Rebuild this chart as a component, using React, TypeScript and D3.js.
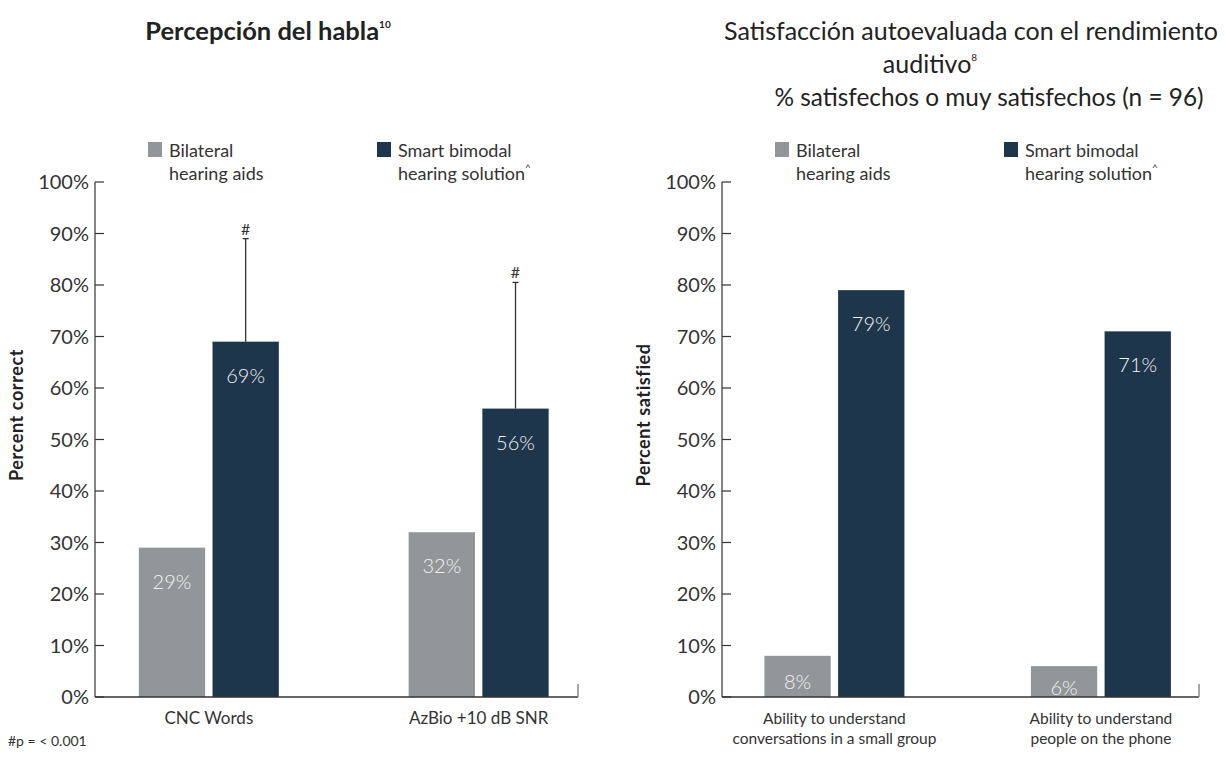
import React from "react";
import * as d3 from "d3";

const yTicks = [0, 10, 20, 30, 40, 50, 60, 70, 80, 90, 100];
const seriesKeys = ["bilateral", "bimodal"];
const legendLines = [
  ["Bilateral", "hearing aids"],
  ["Smart bimodal", "hearing solution"],
];

const speechCategories = [["CNC Words"], ["AzBio +10 dB SNR"]];
const speechBilateral = [29, 32];
const speechBimodal = [69, 56];
const speechBimodalUpper = [89, 80.5];

const satisfactionCategories = [
  ["Ability to understand", "conversations in a small group"],
  ["Ability to understand", "people on the phone"],
];
const satisfactionBilateral = [8, 6];
const satisfactionBimodal = [79, 71];

const GRAY = "#939698";
const NAVY = "#1e364b";
const INK = "#333333";
const FONT = "Lato, 'Noto Sans', sans-serif";

type PanelProps = {
  left: number;
  right: number;
  axisTitle: string;
  categories: string[][];
  catSize: number;
  bilateral: number[];
  bimodal: number[];
  upper?: number[];
};

const Panel = ({ left, right, axisTitle, categories, catSize, bilateral, bimodal, upper }: PanelProps) => {
  const top = 182;
  const bottom = 697;
  const y = d3.scaleLinear().domain([0, 100]).range([bottom, top]);
  const keys = categories.map((c) => c.join(" "));
  const x = d3.scalePoint().domain(keys).range([left, right]).padding(0.395).align(0.534);
  const inner = d3.scaleBand().domain(seriesKeys).range([-70, 70]).paddingInner(0.1);

  const rows = keys.map((k, i) => ({ k, lines: categories[i], vals: [bilateral[i], bimodal[i]], up: upper ? upper[i] : null }));

  // value label sits a little below the bar top, or mid-bar for short bars
  const labelY = (v: number) => Math.min(y(v) + 34, (y(v) + bottom) / 2 + 6);
  const mid = (key: string) => (inner(key) as number) + inner.bandwidth() / 2;

  return (
    <g>
      {/* y axis */}
      <line x1={left} x2={left} y1={top} y2={bottom} stroke={INK} strokeWidth={1.2} />
      {yTicks.map((t) => (
        <g key={t}>
          <line x1={left} x2={left + 9} y1={y(t)} y2={y(t)} stroke={INK} strokeWidth={1.2} />
          <text x={left - 6} y={y(t) + 7} textAnchor="end" fontSize={20} fill={INK} fontFamily={FONT}>
            {t}%
          </text>
        </g>
      ))}
      <text
        transform={`translate(${left - 72},415) rotate(-90)`}
        textAnchor="middle"
        fontSize={18}
        letterSpacing={0.6}
        fontWeight="bold"
        fill="#222"
        fontFamily={FONT}
      >
        {axisTitle}
      </text>

      {/* bars */}
      {rows.map((r) => (
        <g key={r.k} transform={`translate(${x(r.k)},0)`}>
          {r.vals.map((v, j) => (
            <g key={j}>
              <rect
                x={inner(seriesKeys[j])}
                y={y(v)}
                width={inner.bandwidth()}
                height={bottom - y(v)}
                fill={j === 0 ? GRAY : NAVY}
              />
              <text
                x={mid(seriesKeys[j])}
                y={labelY(v) + 7}
                textAnchor="middle"
                fontSize={20}
                fontWeight={300}
                fill="#f2f2f2"
                fontFamily={FONT}
              >
                {v}%
              </text>
            </g>
          ))}
          {r.up !== null && (
            <g>
              <line x1={mid("bimodal")} x2={mid("bimodal")} y1={y(r.vals[1])} y2={y(r.up as number)} stroke={INK} strokeWidth={1.3} />
              <line
                x1={mid("bimodal") - 3}
                x2={mid("bimodal") + 3}
                y1={y(r.up as number)}
                y2={y(r.up as number)}
                stroke={INK}
                strokeWidth={1.3}
              />
              <text x={mid("bimodal")} y={y(r.up as number) - 4} textAnchor="middle" fontSize={16} fill={INK} fontFamily={FONT}>
                #
              </text>
            </g>
          )}
          {r.lines.map((ln, li) => (
            <text
              key={li}
              x={0}
              y={bottom + 27 + li * 20}
              textAnchor="middle"
              fontSize={catSize}
              fill={INK}
              fontFamily={FONT}
            >
              {ln}
            </text>
          ))}
        </g>
      ))}

      {/* x axis */}
      <line x1={left} x2={right} y1={bottom} y2={bottom} stroke={INK} strokeWidth={1.5} />
      <line x1={right} x2={right} y1={bottom} y2={bottom - 13} stroke="#888" strokeWidth={1.5} />

      {/* legend */}
      {legendLines.map((lines, i) => (
        <g key={i} transform={`translate(${left + 53 + i * 229},142)`}>
          <rect x={0} y={0} width={14} height={15} fill={i === 0 ? GRAY : NAVY} />
          {lines.map((ln, li) => (
            <text key={li} x={21} y={15 + li * 23} fontSize={18} fill={INK} fontFamily={FONT}>
              {ln}
              {i === 1 && li === 1 && (
                <tspan fontSize={10} dy={-9}>
                  ^
                </tspan>
              )}
            </text>
          ))}
        </g>
      ))}
    </g>
  );
};

export default function App() {
  return (
    <svg width={1225} height={760} style={{ position: "absolute", left: 0, top: 0, background: "#fff" }}>
      <text x={268} y={40} textAnchor="middle" fontSize={25.5} fontWeight="bold" fill="#222" fontFamily={FONT}>
        Percepción del habla
        <tspan fontSize={10} dy={-12}>10</tspan>
      </text>
      <text x={971} y={40} textAnchor="middle" fontSize={25} fill="#222" fontFamily={FONT}>
        Satisfacción autoevaluada con el rendimiento
      </text>
      <text x={930} y={73} textAnchor="middle" fontSize={25} fill="#222" fontFamily={FONT}>
        auditivo
        <tspan fontSize={10} dy={-12}>8</tspan>
      </text>
      <text x={989} y={106} textAnchor="middle" fontSize={24.4} fill="#222" fontFamily={FONT}>
        % satisfechos o muy satisfechos (n = 96)
      </text>

      <Panel
        left={95}
        right={578}
        axisTitle="Percent correct"
        categories={speechCategories}
        catSize={17}
        bilateral={speechBilateral}
        bimodal={speechBimodal}
        upper={speechBimodalUpper}
      />
      <Panel
        left={722}
        right={1199}
        axisTitle="Percent satisfied"
        categories={satisfactionCategories}
        catSize={15.5}
        bilateral={satisfactionBilateral}
        bimodal={satisfactionBimodal}
      />

      <text x={8} y={746} fontSize={14} fill={INK} fontFamily={FONT}>
        #p = &lt; 0.001
      </text>
    </svg>
  );
}
